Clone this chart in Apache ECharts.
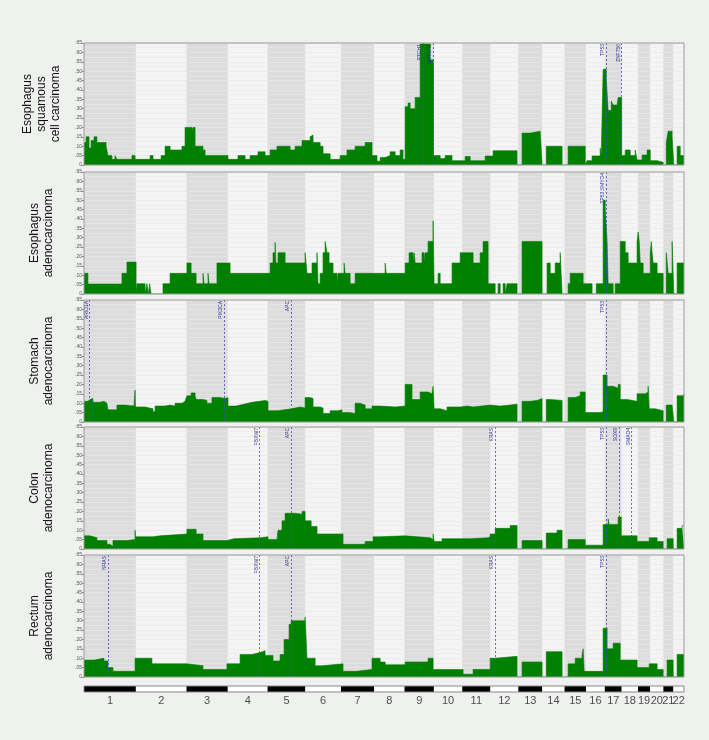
<!DOCTYPE html>
<html>
<head>
<meta charset="utf-8">
<script src="https://cdn.jsdelivr.net/npm/echarts@6/dist/echarts.min.js"></script>
<style>
  html, body { margin: 0; background: #eff1ef; }
  #chart { width: 709px; height: 740px; }
</style>
</head>
<body>
<div id="chart"></div>
<script>
// chromosomes (Mb)
var chromNames = ['1','2','3','4','5','6','7','8','9','10','11','12','13','14','15','16','17','18','19','20','21','22'];
var chromLengths = [249,243,198,191,181,171,159,146,141,136,135,134,115,107,103,90,81,78,59,63,48,51];

// [genome position Mb, fraction] — step values, each holds until the next point
var escc = [[0,.12],[10,.15],[24,.09],[34,.13],[48,.15],[62,.12],[106,.10],[115,.05],[134,.03],[149,.05],[158,.03],[230,.05],[245,.03],[317,.05],[331,.03],[370,.05],[389,.10],[413,.08],[470,.10],[485,.20],[518,.18],[523,.20],[533,.10],[571,.08],[581,.05],[691,.03],[739,.05],[773,.03],[797,.05],[835,.07],[869,.05],[893,.08],[926,.10],[989,.08],[1013,.10],[1046,.13],[1085,.15],[1094,.16],[1099,.12],[1133,.10],[1147,.06],[1181,.03],[1229,.05],[1262,.08],[1301,.10],[1349,.12],[1382,.05],[1406,.02],[1421,.04],[1445,.05],[1469,.07],[1493,.05],[1517,.08],[1531,.03],[1541,.31],[1555,.33],[1565,.30],[1589,.36],[1613,.645],[1661,.56],[1677,.05],[1709,.035],[1733,.05],[1766,.023],[1829,.045],[1853,.023],[1925,.048],[1963,.076],[2078,0],[2102,.17],[2141,.18],[2189,.17],[2198,0],[2218,.10],[2294,0],[2323,.10],[2405,0],[2414,.023],[2438,.048],[2477,.09],[2482,.05],[2491,.51],[2506,.46],[2515,.29],[2530,.34],[2539,.32],[2558,.33],[2563,.36],[2580,.05],[2597,.08],[2621,.05],[2645,.08],[2654,.027],[2678,.053],[2702,.08],[2717,.023],[2750,.014],[2779,0],[2794,.12],[2803,.18],[2822,.15],[2830,0],[2846,.10],[2861,.05],[2879,.05]];

var eac = [[0,.11],[19,.053],[182,.11],[206,.17],[250,0],[254,.055],[293,0],[302,.055],[310,0],[315,.055],[322,0],[379,.055],[413,.11],[494,.165],[514,.11],[538,.055],[571,.11],[576,.055],[595,.11],[600,.055],[638,.165],[701,.11],[893,.165],[907,.22],[917,.275],[921,.165],[931,.22],[965,.165],[1061,.22],[1070,.11],[1094,.165],[1118,.22],[1123,.055],[1133,.11],[1147,.22],[1157,.28],[1166,.22],[1176,.165],[1195,.11],[1214,.055],[1219,.11],[1248,.165],[1253,.11],[1277,.055],[1301,.11],[1445,.165],[1450,.11],[1541,.165],[1560,.22],[1579,.165],[1584,.22],[1589,.165],[1622,.22],[1632,.165],[1637,.22],[1651,.28],[1675,.39],[1680,.055],[1699,.11],[1709,.055],[1766,.165],[1805,.22],[1867,.165],[1901,.22],[1915,.28],[1939,.055],[1973,0],[1987,.055],[1997,0],[2011,.055],[2021,0],[2030,.055],[2078,0],[2102,.28],[2198,0],[2222,.165],[2237,.11],[2261,.165],[2285,.22],[2294,0],[2323,.055],[2333,.11],[2395,.055],[2438,0],[2458,.055],[2491,.50],[2501,.45],[2510,.28],[2515,.055],[2539,0],[2549,.055],[2573,.28],[2597,.22],[2611,.165],[2654,.28],[2659,.33],[2664,.28],[2669,.165],[2683,.11],[2717,.22],[2722,.28],[2726,.22],[2731,.165],[2750,.11],[2779,0],[2794,.22],[2803,.11],[2822,.28],[2830,0],[2846,.165],[2879,.165]];

var stomach = [[0,.11],[19,.12],[29,.125],[43,.105],[77,.11],[96,.10],[110,.105],[115,.065],[158,.09],[197,.085],[240,.09],[245,.17],[247,.08],[293,.07],[331,.055],[341,.085],[389,.09],[413,.085],[437,.10],[470,.11],[485,.10],[494,.14],[514,.155],[533,.14],[538,.12],[571,.115],[590,.10],[614,.13],[653,.125],[677,.13],[691,.085],[729,.09],[749,.10],[787,.105],[806,.11],[840,.115],[869,.11],[883,.06],[931,.065],[960,.07],[994,.08],[1037,.075],[1061,.13],[1085,.125],[1099,.08],[1133,.075],[1147,.045],[1181,.06],[1219,.065],[1238,.05],[1277,.045],[1301,.10],[1325,.09],[1349,.07],[1382,.085],[1421,.08],[1493,.085],[1541,.20],[1574,.12],[1613,.16],[1651,.15],[1670,.14],[1675,.19],[1680,.07],[1709,.06],[1742,.08],[1805,.085],[1838,.08],[1867,.09],[1949,.085],[1997,.09],[2045,.095],[2078,0],[2102,.11],[2141,.115],[2174,.125],[2198,0],[2218,.12],[2237,.115],[2294,0],[2323,.13],[2357,.14],[2381,.16],[2405,.05],[2477,.055],[2491,.25],[2510,.19],[2539,.18],[2563,.20],[2573,.12],[2606,.11],[2654,.15],[2693,.16],[2707,.19],[2712,.07],[2741,.06],[2779,0],[2794,.09],[2822,.08],[2830,0],[2846,.14],[2879,.15]];

var colon = [[0,.07],[29,.06],[62,.045],[110,.025],[125,.015],[139,.045],[206,.05],[245,.10],[247,.065],[331,.07],[365,.08],[494,.105],[538,.08],[571,.045],[686,.055],[720,.06],[845,.065],[883,.05],[926,.04],[931,.10],[950,.15],[965,.19],[1013,.185],[1046,.20],[1061,.15],[1090,.12],[1118,.08],[1243,.025],[1349,.04],[1387,.065],[1421,.07],[1541,.06],[1661,.05],[1675,.08],[1680,.04],[1718,.055],[1853,.06],[1939,.065],[1949,.08],[1973,.11],[2045,.125],[2078,0],[2102,.045],[2198,0],[2218,.085],[2270,.10],[2294,0],[2323,.05],[2405,.02],[2491,.13],[2515,.16],[2520,.13],[2563,.17],[2578,.07],[2654,.04],[2712,.06],[2750,.04],[2779,0],[2798,.055],[2827,0],[2846,.11],[2870,.125],[2879,.125]];

var rectum = [[0,.09],[48,.10],[96,.085],[115,.05],[139,.03],[245,.10],[326,.07],[494,.06],[571,.04],[686,.07],[749,.12],[806,.13],[845,.14],[869,.115],[907,.085],[941,.12],[960,.20],[984,.28],[994,.30],[1061,.32],[1070,.10],[1109,.06],[1142,.07],[1243,.03],[1306,.04],[1382,.10],[1421,.08],[1445,.065],[1541,.08],[1651,.10],[1675,.04],[1819,.015],[1867,.04],[1949,.10],[1973,.11],[2078,0],[2102,.08],[2198,0],[2218,.135],[2294,0],[2323,.07],[2357,.10],[2390,.12],[2395,.15],[2400,.03],[2491,.26],[2510,.15],[2539,.18],[2573,.09],[2654,.05],[2712,.07],[2750,.04],[2779,0],[2798,.09],[2827,0],[2846,.12],[2879,.12]];

var esccGenes = [['PTCH1',1627],['NOTCH1',1675],['TP53',2506],['ZNF750',2580]];
var eacGenes = [['TP53;SMYD4',2506]];
var stomachGenes = [['ARID1A',27],['PIK3CA',671],['APC',994],['TP53',2506]];
var colonGenes = [['FBXW7',843],['APC',994],['KRAS',1975],['TP53',2506],['SOX9',2569],['SMAD4',2628]];
var rectumGenes = [['NRAS',115],['FBXW7',843],['APC',994],['KRAS',1975],['TP53',2506]];

var titles = ['Esophagus\nsquamous\ncell carcinoma', 'Esophagus\nadenocarcinoma', 'Stomach\nadenocarcinoma', 'Colon\nadenocarcinoma', 'Rectum\nadenocarcinoma'];
var panelData = [escc, eac, stomach, colon, rectum];
var panelGenes = [esccGenes, eacGenes, stomachGenes, colonGenes, rectumGenes];

var chromStarts = [];
var acc = 0;
chromLengths.forEach(function (l) { chromStarts.push(acc); acc += l; });
var genomeEnd = acc;
var chromCenters = chromStarts.map(function (s, k) { return s + chromLengths[k] / 2; });

var panelTops = [43, 172, 300, 427, 555];
var panelH = 122;

function bands(odd, even) {
    return chromStarts.map(function (s, k) {
        return [{ xAxis: s, itemStyle: { color: k % 2 ? even : odd } }, { xAxis: s + chromLengths[k] }];
    });
}

var grid = [], xAxis = [], yAxis = [], series = [], graphic = [];

panelData.forEach(function (data, i) {
    grid.push({ left: 84, width: 600, top: panelTops[i], height: panelH, show: true,
        backgroundColor: 'transparent', borderColor: '#9a9a9a', borderWidth: 1, z: 10 });
    xAxis.push({ type: 'value', gridIndex: i, min: 0, max: genomeEnd, show: false });
    yAxis.push({
        type: 'value', gridIndex: i, min: 0, max: 0.65, interval: 0.05, z: 2,
        axisLine: { show: false },
        axisTick: { show: true, length: 2, lineStyle: { color: '#888' } },
        axisLabel: { fontSize: 5, color: '#555', margin: 2,
            formatter: function (v) { var n = Math.round(v * 100); return n === 0 ? '0' : '.' + (n < 10 ? '0' + n : n); } },
        splitLine: { show: true, lineStyle: { color: '#e7e7e7', width: 0.7 } },
        minorTick: { show: false, splitNumber: 2 },
        minorSplitLine: { show: true, lineStyle: { color: '#e9e9e9', width: 0.6 } }
    });
    series.push({
        type: 'line', xAxisIndex: i, yAxisIndex: i, data: [], z: 1, silent: true,
        markArea: { silent: true, data: bands('#dcdcdc', '#f4f4f4') }
    });
    series.push({
        type: 'line', xAxisIndex: i, yAxisIndex: i, step: 'end', data: data, symbol: 'none', z: 3,
        lineStyle: { color: '#007a00', width: 0.6 },
        areaStyle: { color: '#008000', opacity: 1 },
        markLine: {
            silent: true, symbol: 'none',
            lineStyle: { color: '#4a4ab8', type: [2, 2], width: 0.8 },
            label: { show: true, formatter: '{b}', position: 'insideEndTop', fontSize: 5, color: '#2e2e99', distance: 1 },
            data: panelGenes[i].map(function (g) { return { name: g[0], xAxis: g[1] }; })
        }
    });
    graphic.push({
        type: 'text', x: 42, y: panelTops[i] + panelH / 2, rotation: Math.PI / 2,
        style: { text: titles[i], fontSize: 12, fontFamily: 'Liberation Sans, Arial, sans-serif',
            fill: '#111', align: 'center', verticalAlign: 'middle', lineHeight: 14 }
    });
});

// chromosome bar
var b = panelData.length;
grid.push({ left: 84, width: 600, top: 686, height: 6, show: true,
    backgroundColor: 'transparent', borderColor: '#888', borderWidth: 1, z: 10 });
xAxis.push({ type: 'value', gridIndex: b, min: 0, max: genomeEnd, show: false });
yAxis.push({ type: 'value', gridIndex: b, min: 0, max: 1, show: false });
series.push({
    type: 'line', xAxisIndex: b, yAxisIndex: b, data: [], silent: true,
    markArea: { silent: true, data: bands('#000000', '#ffffff') }
});
series.push({
    type: 'scatter', xAxisIndex: b, yAxisIndex: b, symbolSize: 0, silent: true,
    data: chromCenters.map(function (c, k) { return { name: chromNames[k], value: [c, 0] }; }),
    label: { show: true, formatter: '{b}', position: 'bottom', distance: 3,
        fontSize: 11, color: '#222', fontFamily: 'Liberation Sans, Arial, sans-serif' },
    labelLayout: { hideOverlap: false }
});

var chart = echarts.init(document.getElementById('chart'));
chart.setOption({
    animation: false,
    backgroundColor: '#eff1ef',
    grid: grid, xAxis: xAxis, yAxis: yAxis, series: series, graphic: graphic
});
</script>
</body>
</html>
